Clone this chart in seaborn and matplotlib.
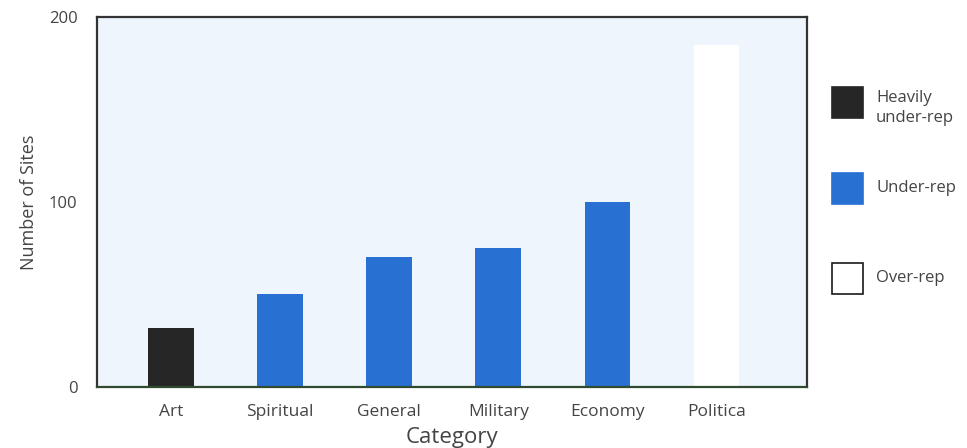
import matplotlib
matplotlib.use("Agg")
import matplotlib.pyplot as plt
from matplotlib.patches import Rectangle
import pandas as pd
import seaborn as sns

# Site counts per category
categories = ["Art", "Spiritual", "General", "Military", "Economy", "Politica"]
site_counts = [32, 50, 70, 75, 100, 185]
representation = ["Heavily\nunder-rep", "Under-rep", "Under-rep", "Under-rep", "Under-rep", "Over-rep"]

legend_labels = ["Heavily\nunder-rep", "Under-rep", "Over-rep"]
legend_colors = ["#262626", "#2870d2", "#ffffff"]
legend_edges = ["#262626", "#2870d2", "#1a1a1a"]
y_ticks = [0, 100, 200]

df = pd.DataFrame({"Category": categories, "Sites": site_counts, "Rep": representation})
palette = dict(zip(legend_labels, legend_colors))

sns.set_theme(style="white")
plt.rcParams["font.family"] = ["Open Sans", "DejaVu Sans"]
text_color = "#444444"

fig = plt.figure(figsize=(9.67, 4.48), dpi=100)
ax = fig.add_axes([0.1003, 0.1362, 0.7343, 0.8258])
ax.set_facecolor("#eef5fd")

sns.barplot(data=df, x="Category", y="Sites", hue="Rep", palette=palette,
            order=categories, dodge=False, width=0.42, legend=False,
            saturation=1, linewidth=0, ax=ax)

ax.set_ylim(0, 200)
ax.set_xlim(-0.68, 5.83)
ax.set_yticks(y_ticks)
ax.set_yticklabels([str(v) for v in y_ticks], fontsize=12, color=text_color)
ax.tick_params(axis="x", labelsize=12.5, labelcolor=text_color, length=0, pad=12)
ax.tick_params(axis="y", length=0, pad=14)

for side in ["left", "top", "right"]:
    ax.spines[side].set_color("#333333")
    ax.spines[side].set_linewidth(1.6)
ax.spines["bottom"].set_color("#2f4a2f")
ax.spines["bottom"].set_linewidth(1.6)

ax.set_xlabel("Category", fontsize=16, color=text_color, labelpad=5)
ax.set_ylabel("Number of Sites", fontsize=13, color=text_color, labelpad=8)

# Legend boxes to the right of the plot
W, H = 967, 448
box_tops = [87, 173, 263]
for label, color, edge, top in zip(legend_labels, legend_colors, legend_edges, box_tops):
    fig.add_artist(Rectangle((832 / W, 1 - (top + 31) / H), 31 / W, 31 / H,
                             transform=fig.transFigure, facecolor=color,
                             edgecolor=edge, linewidth=1.2))
    ty = top + 3 if "\n" in label else top + 15
    va = "top" if "\n" in label else "center"
    fig.text(876 / W, 1 - ty / H, label, fontsize=12, color=text_color,
             va=va, ha="left", linespacing=1.3)

fig.savefig("out.png", dpi=100)
